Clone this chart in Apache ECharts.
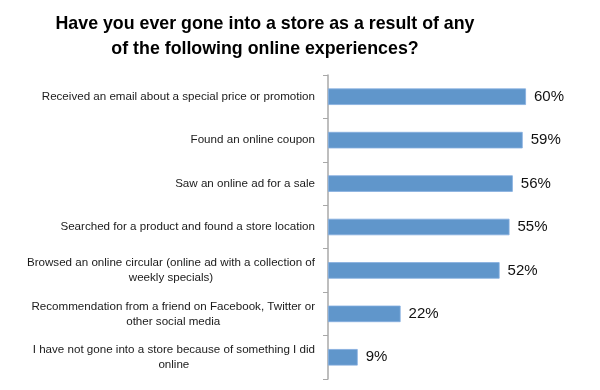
<!DOCTYPE html>
<html>
<head>
<meta charset="utf-8">
<script src="https://cdn.jsdelivr.net/npm/echarts@6/dist/echarts.min.js"></script>
<style>html,body{margin:0;padding:0;background:#fff;}#chart{width:600px;height:390px;}</style>
</head>
<body>
<div id="chart"></div>
<script>
var titleText = "Have you ever gone into a store as a result of any\nof the following online experiences?";
var categories = [
  "Received an email about a special price or promotion",
  "Found an online coupon",
  "Saw an online ad for a sale",
  "Searched for a product and found a store location",
  "Browsed an online circular (online ad with a collection of\nweekly specials)",
  "Recommendation from a friend on Facebook, Twitter or\nother social media",
  "I have not gone into a store because of something I did\nonline"
];
var values = [60, 59, 56, 55, 52, 22, 9];

var chart = echarts.init(document.getElementById('chart'), null, {renderer: 'canvas'});
chart.setOption({
  animation: false,
  backgroundColor: '#ffffff',
  title: {
    text: titleText,
    left: 260,
    textAlign: 'center',
    top: 7,
    textStyle: {
      fontFamily: 'Liberation Sans, Arial, sans-serif',
      fontSize: 17.8,
      fontWeight: 'bold',
      color: '#000',
      lineHeight: 25
    }
  },
  grid: {left: 328, right: 74, top: 75, bottom: 11, containLabel: false},
  xAxis: {
    type: 'value',
    min: 0,
    max: 60,
    show: false
  },
  yAxis: {
    type: 'category',
    data: categories,
    inverse: true,
    axisLine: {show: true, lineStyle: {color: '#a8a8a8', width: 1.5}},
    axisTick: {show: true, length: 5, lineStyle: {color: '#a8a8a8', width: 1}},
    axisLabel: {
      margin: 13,
      align: 'right',
      color: '#1a1a1a',
      fontFamily: 'Liberation Sans, Arial, sans-serif',
      fontSize: 11.6,
      lineHeight: 15,
      formatter: function (v) {
        return v.split('\n').map(function (s) { return '{c|' + s + '}'; }).join('\n');
      },
      rich: {
        c: {
          align: 'center',
          color: '#1a1a1a',
          fontFamily: 'Liberation Sans, Arial, sans-serif',
          fontSize: 11.6,
          lineHeight: 15
        }
      }
    },
    splitLine: {show: false}
  },
  series: [{
    type: 'bar',
    data: values,
    barWidth: '38%',
    itemStyle: {color: '#6096cb', borderColor: '#84ade0', borderWidth: 0.8},
    label: {
      show: true,
      position: 'right',
      distance: 8,
      formatter: '{c}%',
      color: '#111',
      fontFamily: 'Liberation Sans, Arial, sans-serif',
      fontSize: 15
    }
  }]
});
</script>
</body>
</html>
